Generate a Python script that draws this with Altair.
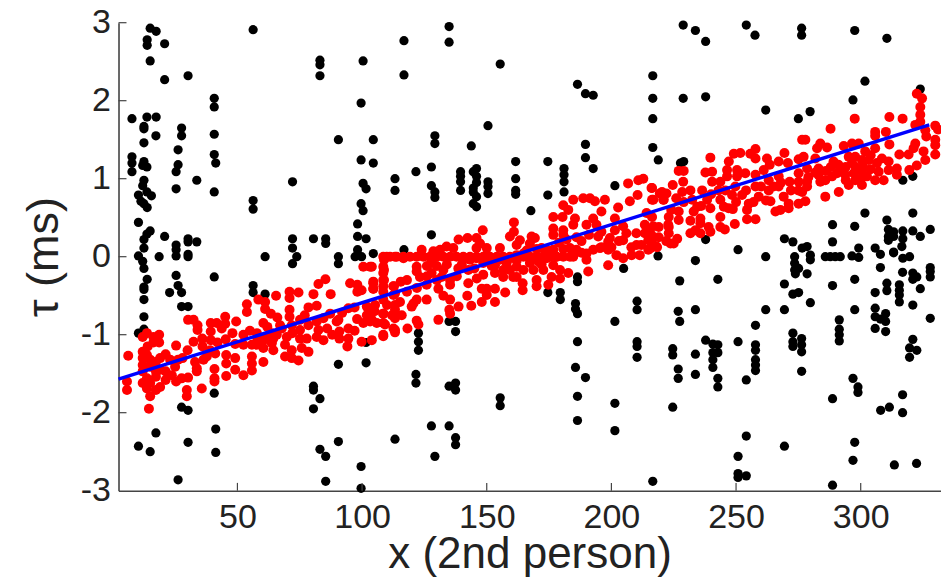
import altair as alt
import pandas as pd

BLACK_A = [(15,2.93),(17.4,2.89),(13.8,2.78),(13.8,2.71),(20.8,2.73),(15,2.51),(20.8,2.27),(30.2,2.32),(56.3,2.91),(83.1,2.52),(83.1,2.46),(83.1,2.32),(100.4,2.51),(99.6,1.97),(40.7,2.03),(40.7,1.92),(7.7,1.77),(13.7,1.79),(17.4,1.79),(12.5,1.67),(12.5,1.64),(27.6,1.65),(27.6,1.55),(17.3,1.55),(12.5,1.46),(40.7,1.57),(26.2,1.37),(40.7,1.31),(41.3,1.20),(7.7,1.28),(7.7,1.2),(7.7,1.09),(12.5,1.22),(12,1.17),(13.7,1.15),(26.2,1.18),(25.4,1.09),(33.7,0.98),(25.4,0.87),(40.7,0.83),(12.5,0.98),(12,0.91),(10.3,0.79),(13.7,0.83),(15.5,0.78),(11.3,0.71),(12.5,0.68),(13.8,0.63),(56.3,0.72),(56.3,0.61),(72.1,0.96),(90.5,1.5),(104.5,1.5),(99.6,1.24),(104.5,1.2),(100.4,0.94),(101.6,0.87),(99.6,0.68),(100.4,0.59),(113.2,1.0),(113.2,0.85),(10.3,0.44),(15,0.33),(13.7,0.29),(12.5,0.22),(20.8,0.26),(25.4,0.15),(30.2,0.23),(30.2,0.19),(33.7,0.19),(12.5,0.11),(25.4,0.09),(30.2,0.03),(72.1,0.23),(80.5,0.23),(85.4,0.23),(85.4,0.17),(72.1,0.11),(98.2,0.42),(98.2,0.26),(101.6,0.23),(98.2,0.09),(10.3,0.01),(18.6,0),(25.4,0.01),(30.2,0),(61.1,0),(73.8,0),(90.5,0),(97.2,0),(99.8,0),(104.5,0.04)]
BLACK_B = [(12,-0.06),(12.5,-0.15),(13.8,-0.29),(12.5,-0.39),(12.5,-0.42),(12.5,-0.55),(12.5,-0.77),(12.5,-0.93),(10.3,-0.98),(25.4,-0.24),(26.2,-0.37),(22.8,-0.46),(27.6,-0.46),(27.6,-0.64),(30.2,-0.64),(40.7,-0.26),(56.3,-0.37),(56.3,-0.46),(61.1,-0.48),(72.1,-0.09),(90.5,-0.09),(101.6,-1.1),(90.5,-1.38),(101.6,-1.36),(40.7,-1.75),(27.6,-1.93),(30.2,-1.97),(80.5,-1.66),(80.5,-1.71),(83.1,-1.82),(80.5,-1.95),(41.3,-2.21),(17.3,-2.26),(10.3,-2.43),(15,-2.5),(30.2,-2.38),(41.3,-2.51),(83.1,-2.47),(85.4,-2.56),(90.5,-2.37),(113.2,-2.34),(99.6,-2.69),(26.2,-2.86),(85.4,-2.88),(99.6,-2.97)]
BLACK_C = [(116.8,2.77),(116.8,2.33),(134.9,2.95),(134.9,2.75),(155.4,2.47),(186.4,2.21),(189.6,2.09),(192.7,2.07),(216.6,2.32),(216.6,2.03),(216.6,1.77),(216.6,1.4),(218.8,1.24),(150.5,1.68),(129.2,1.55),(129.2,1.45),(143.8,1.42),(189.6,1.44),(189.6,1.27),(192.7,1.13),(127.8,1.15),(121.6,1.09),(127.8,.91),(129.2,.83),(129.2,.76),(139.5,1.09),(139.5,1.03),(139.5,.96),(139.5,.85),(145.9,1.13),(144.6,1.09),(145.9,1.03),(145.9,.95),(144.6,.88),(144.6,.83),(145.9,.77),(144.6,.68),(145.9,.64),(150.5,.96),(150.5,.9),(150.5,.81),(161.6,1.22),(161.6,1.0),(161.6,.85),(161.6,.8),(174.5,1.22),(174.5,.79),(181,1.13),(181,1.05),(181,.96),(181,.83),(201.4,.91),(167.7,.59),(127.8,.28),(116.8,.09)]
BLACK_D = [(204.9,-.15),(186.4,-.26),(186.4,-.32),(174.5,-.46),(179.5,-.46),(179.5,-.55),(185.6,-.6),(185.6,-.67),(186.4,-.73),(210.3,-.57),(210.3,-.68),(201.4,-.83),(134.9,-.83),(137.5,-.83),(137.5,-.96),(122.6,-.98),(122.6,-1.09),(122.6,-1.2),(186.4,-1.09),(210.3,-1.09),(210.3,-1.15),(210.3,-1.29),(185.6,-1.42),(189.6,-1.55),(121.6,-1.51),(121.6,-1.62),(134.9,-1.66),(137.5,-1.62),(137.5,-1.71),(155.4,-1.81),(155.4,-1.91),(186.4,-1.79),(201.4,-1.88),(186.4,-2.1),(201.4,-2.23),(127.8,-2.17),(134.9,-2.17),(137.5,-2.32),(137.5,-2.41),(129.2,-2.56)]
BLACK_E = [(228.8,2.97),(233.7,2.9),(237.8,2.76),(254.1,2.97),(257.6,2.84),(276.3,2.93),(276.3,2.84),(297.6,2.9),(310.5,2.8),(301.7,2.25),(228.8,2.03),(237.8,2.05),(261.9,1.88),(275,1.77),(279.7,1.86),(296.9,2.01),(323.9,2.15),(227.7,1.2),(229,1.22),(316.9,.98),(320.9,1.03),(301.7,.56),(320.9,.56),(310.5,.47),(288.7,.41),(297.6,.39),(327.9,.35),(320.9,.33),(311.1,.35),(313.2,.32),(316.9,.33),(311.1,.26),(313.2,.26),(316.9,.23),(311.1,.21),(323.9,.26),(237.8,.22),(269.4,.23),(272.8,.19),(288.7,.19),(250.8,.09),(276.5,.11),(278.5,.13),(299.2,.11),(305.8,.11),(313.2,.06),(316.5,.13)]
BLACK_F = [(218.7,.01),(233.7,-.05),(227.4,-.31),(242.7,-.29),(261.9,0),(273.5,0),(273.5,-.085),(273.5,-.17),(275.1,-.15),(273.8,-.22),(278.5,-.22),(279.8,.02),(279.8,-.04),(285.8,0),(287.8,0),(289.8,0),(291.8,0),(296.5,.01),(299.2,-.01),(307.9,.03),(313.2,.05),(316.9,-.02),(319.6,0),(307.9,-.14),(316.8,-.2),(320.9,-.21),(322.5,-.26),(320.9,-.29),(327.9,-.14),(327.9,-.19),(327.9,-.26),(297.6,-.29),(288.7,-.37),(269.4,-.35),(272.8,-.48),(275.1,-.46),(279.8,-.59),(310.5,-.34),(305.8,-.46),(310.5,-.435),(315.5,-.36),(315.5,-.43),(315.5,-.49),(315.5,-.58),(323.9,-.41),(320.9,-.62),(226.8,-.7),(227.4,-.83),(233.7,-.68),(261.9,-.68),(269.4,-.68),(297.6,-.68),(305.8,-.66),(305.8,-.77),(307.9,-.8),(310,-.73),(310,-.83),(305.8,-.92),(310,-.96),(327.9,-.79),(291.4,-.81),(291.4,-.93),(291.4,-1),(291.4,-1.08),(257.8,-.88),(272.8,-.98),(272.8,-1.09),(272.8,-1.15),(276.3,-1.05),(276.3,-1.13),(276.3,-1.22),(320.9,-1.06),(319.6,-1.17),(322.5,-1.2),(319.6,-1.29),(237.8,-1.07),(240.7,-1.12),(242.7,-1.13),(242.7,-1.23),(240.7,-1.23),(240.7,-1.32),(240.7,-1.42),(242.7,-1.56),(242.7,-1.67),(250.8,-1.09),(257.8,-1.13),(257.8,-1.2),(257.8,-1.32),(257.8,-1.39),(257.8,-1.46),(254.1,-1.58),(276.3,-1.47),(224.6,-1.18),(224.6,-1.26),(233.7,-1.25),(226.8,-1.44),(226.8,-1.56),(233.7,-1.51),(296.9,-1.56),(298.9,-1.67),(298.9,-1.74),(288.7,-1.82),(316.8,-1.77),(311.5,-1.93),(308,-1.97),(316.8,-2),(224.6,-1.93),(254.1,-2.3),(250.8,-2.56),(250.8,-2.78),(250.8,-2.83),(254.1,-2.81),(269.4,-2.43),(297.6,-2.38),(296.9,-2.61),(313.5,-2.67),(322.4,-2.65),(216.6,-2.88),(288.7,-2.93)]

RED_LEFT = [(6.2,-1.27),(5.7,-1.6),(5.7,-1.71),(12,-1.03),(13.7,-.98),(16.3,-1.03),(18.6,-1),(18.6,-1.1),(16.3,-1.1),(25.4,-1.14),(12,-1.22),(13.7,-1.26),(12,-1.3),(15,-1.32),(17.3,-1.35),(12,-1.39),(15,-1.41),(12,-1.47),(17.3,-1.47),(13.7,-1.56),(17.3,-1.54),(12,-1.62),(15,-1.62),(13.7,-1.69),(19,-1.67),(17.3,-1.71),(15,-1.79),(14.5,-1.95),(21.2,-1.25),(23,-1.32),(26.2,-1.32),(25,-1.41),(21.2,-1.47),(21.2,-1.58),(23.7,-1.52),(25.4,-1.6),(27.6,-1.56),(30.2,-1.55),(29.7,-1.71),(29.7,-1.79),(30.2,-.81),(32.4,-.81),(34,-.88),(34,-.94),(32.4,-1.09),(35.9,-1.05),(39.3,-.85),(39.3,-.96),(39.3,-1.07),(41.7,-.85),(45.1,-.77),(45.1,-.86),(43.7,-.92),(49.5,-.83),(45.3,-1.06),(52.4,-1),(57.8,-.98),(60.4,-.85),(53.8,-.61),(53.8,-.71),(58.4,-.55),(61.1,-.58),(61.1,-.67),(63.4,-.73),(65.5,-.5),(70.9,-.45),(74.5,-.46),(70.9,-.53),(80.5,-.48),(87.4,-.48),(82.5,-.35),(85.3,-.29),(95.2,-.34),(98.1,-.36),(99.8,-.43),(98.1,-.45),(104.5,-.32),(104.5,-.41),(108.8,-.04),(108.8,-.17),(108.8,-.3),(112.5,-.38),(113.2,-.47),(109.9,0),(113.2,0),(100.5,-.13),(103.9,-.13),(78.5,-.65),(81.8,-.63),(70.9,-.68),(70.9,-.77),(75.1,-.81),(67.1,-.88),(71.8,-.88),(63.8,-.98),(61.1,-1.05),(63.8,-1.11),(60.4,-1.17),(64.4,-1.2),(55.8,-1.13),(52.4,-1.13),(49.1,-1.12),(39.1,-1.2),(41.1,-1.24),(37.7,-1.28),(36.4,-1.32),(33,-1.35),(33.7,-1.43),(33.7,-1.47),(40.8,-1.44),(40.8,-1.56),(40.8,-1.6),(45.5,-1.26),(45.5,-1.37),(45.5,-1.53),(49.1,-1.3),(49.1,-1.45),(52.4,-1.52),(55.8,-1.28),(55.8,-1.37),(55.8,-1.46),(60.4,-1.35),(69.1,-1.13),(71.8,-1.2),(69.1,-1.28),(71.8,-1.3),(75.8,-1.17),(78.5,-1.22),(74.5,-1.33),(35.7,-1.69),(75.1,-.94),(77.8,-1.05),(75.1,-1.05),(78.5,-.88),(81.8,-.83),(82.5,-.94),(81.8,-1.03),(84.5,-1.07),(84.5,-.79),(87.2,-.73),(89.8,-.83),(90.9,-.96),(90.9,-1.05),(94.5,-.92),(94.5,-1.05),(94.1,-1.15),(101.9,-.64),(101.9,-.75),(105.2,-.62),(100.5,-.85),(103.9,-.81),(108.5,-.73),(108.5,-.85),(108.5,-1.02),(113.2,-.94),(113.2,-.79),(113.2,-.62),(99.8,-1.09),(103.9,-1.07),(90.5,-.81),(94.5,-.66),(65.8,-1),(67.8,-.92),(69.8,-1.03),(60.4,-1.07),(57.8,-1.13),(64.4,-1.05)]
RED_FLAT_X = [108.5,111.2,113.9,116.6,119.2,121.9,124.6,127.2,129.9,132.6,135.3,137.9,140.6,143.3,145.9,148.6,151.3,154,156.6,159.3,162,164.7,167.3,170,172.7,175.3,178,180.7,183.4]
RED_MID = [(108.5,-.13),(108.5,-.21),(108.5,-.3),(108.5,-.38),(108.5,-.45),(108.5,-.55),(103.2,-.13),(104.5,-.34),(104.5,-.41),(103.2,-.73),(103.2,-.83),(105.9,-.85),(108.5,-.73),(109.2,-.87),(108.5,-1),(112.8,-.38),(115.5,-.32),(112.6,-.49),(115.2,-.58),(113.2,-.68),(115.9,-.75),(113.2,-.77),(112.6,-.92),(113.2,-.97),(118.2,-.92),(121.9,-.82),(122.6,-.87),(120.6,-.6),(119.9,-.64),(121.9,-.55),(125.9,-.55),(130.6,-.41),(132.6,-.5),(135.3,-.55),(130.6,-.81),(135,-.68),(135.3,-.73),(138.7,-.64),(143.8,-.63),(142.2,-.5),(148,-.58),(153.3,-.58),(150,-.41),(150,-.49),(153.3,-.41),(157.4,-.46),(148,-.41),(116.6,-.02),(121.9,-.19),(123.2,-.26),(121.9,-.13),(127.9,-.08),(127.9,-.21),(125.9,-.36),(132.6,-.17),(131.9,-.26),(135.3,-.36),(135.3,-.3),(138.6,-.15),(142.6,-.17),(142.6,-.34),(148.6,-.23),(148.4,.34),(138.7,.22),(142.3,.24),(145.9,.24),(147.3,.17),(150,.11),(150,.02),(145.9,.11),(133.9,.13),(136.6,.11),(131.3,.09),(128.6,.07),(123.9,.09),(141.9,-.02),(143.3,-.04),(155.3,.11),(159.3,.26),(160.9,.44),(160.9,.32),(163.3,.21),(162,.15),(168,.26),(169.3,.24),(167.3,.17),(172,.11),(176.7,.51),(180.4,.51),(176.7,.36),(176.7,.28),(180.7,.66),(182.7,.6),(180.7,.34),(180.7,.28),(184.7,.73),(188.7,.75),(191.4,.75),(193.4,.71),(197.4,.73),(196,.58),(185.4,.49),(184.7,.41),(190,.41),(192.7,.49),(194,.41),(202.7,.63),(207.4,.71),(210.5,.79),(206.7,.94),(210.8,.98),(212.8,1),(216.1,.88),(219.4,.81),(222.1,.81),(216.8,.73),(220.8,.73),(214.1,.56),(213.4,.41),(213.4,.3),(216.8,.39),(222.8,.41),(214.8,.21),(218.1,.13),(210.1,.15),(204.7,.39),(204.7,.21),(201.4,.49),(201.4,.34),(199.4,.24),(198.7,.19),(194.7,.26),(190,.04),(192.7,.09),(195.4,.11),(198.7,.09),(202,.02),(204.7,-.02),(208.1,.02),(211.4,.02),(214.8,.09),(198.7,-.11),(190,-.04),(190.7,-.19),(186,.09),(184.7,0),(183.4,.11),(180.7,.1),(178,0),(176.7,.09),(174,.09),(174,-.02),(170.7,-.06),(167.3,0),(164.7,.04),(162,.02),(159.3,-.02),(155.3,-.04),(153.3,-.11),(153.3,-.21),(156.6,-.17),(159.3,-.17),(162,-.13),(164.7,-.17),(167.3,-.08),(168.7,-.17),(170,-.3),(170,-.38),(164.4,-.34),(164.4,-.43),(156.6,-.26),(160.6,-.26),(162,-.26),(172.7,-.17),(176.7,-.11),(179.4,-.17),(182.7,-.21),(179.4,-.28),(176,-.26),(174.7,-.36),(148.6,-.08),(145.9,-.02),(151.3,-.04)]
RED_RIGHT = [(322.5,2.09),(324.6,2.03),(323.9,1.92),(323.9,1.82),(323.9,1.73),(321.9,1.69),(325.9,1.62),(311.5,1.79),(316.8,1.77),(297.6,1.77),(287.9,1.64),(305.8,1.6),(305.8,1.55),(310.1,1.6),(311.5,1.44),(329.9,1.68),(331,1.63),(326.3,1.54),(329.9,1.5),(329.9,1.43),(321.9,1.45),(321.2,1.39),(325.2,1.35),(329.9,1.31),(315.5,1.31),(319.2,1.31),(325.9,1.24),(322.5,1.17),(319.5,1.11),(314.5,1.13),(314.5,1.05),(311.2,1.22),(308.5,1.26),(306.5,1.2),(311.2,1.11),(307.2,1.09),(309.2,.98),(305.8,.98),(302.5,1.03),(300.5,.92),(297.8,.98),(295.2,.92),(297.2,1.07),(300.5,1.09),(296.5,1.2),(300.5,1.24),(303.2,1.24),(301.8,1.35),(305.8,1.39),(299.2,1.45),(296.5,1.45),(293.2,1.42),(297.8,1.28),(295.2,1.28),(292.5,1.11),(290.5,1.07),(288.5,1.03),(285.8,.98),(283.8,.96),(293.8,1.05),(289.1,1.22),(286.5,1.4),(283.8,1.45),(282.5,1.39),(276.5,1.5),(277.8,1.5),(277.1,1.28),(275.1,1.25),(281.8,1.26),(283.1,1.13),(281.8,1.08),(278.5,1.13),(275.1,1.07),(278.5,.96),(275.1,.96),(278.5,.9),(276.5,.83),(277.8,.71),(275.1,.68),(271.5,.96),(270.8,1.2),(267.1,1.22),(269.4,1.33),(262.4,1.26),(263.5,1.18),(261.1,1.11),(257.8,1.38),(255.7,1.32),(257.8,1.26),(251.7,1.33),(249.1,1.32),(247.1,1.22),(239.7,1.27),(229,1.1),(227,1.1),(228.8,.96),(237.7,1.08),(240.4,1.09),(246.4,1.11),(246.4,1.03),(250.4,1.11),(250.4,1.03),(253.7,1.07),(257.8,1.05),(240.4,.96),(236.4,.85),(231.7,.85),(228.4,.83),(224.6,.92),(220.3,.83),(216.3,.88),(216.3,.73),(221,.73),(232.4,.73),(234.4,.64),(238.4,.73),(239.7,.62),(243.7,.73),(245.1,.64),(248.4,.79),(252.4,.79),(255.1,.68),(254.4,.6),(259.1,.77),(263.1,.98),(263.1,.85),(267.1,1.03),(267.1,.9),(269.1,.77),(263.8,.71),(265.8,.58),(267.8,.6),(271.1,.68),(271.1,.62),(285.8,.77),(291.2,.83),(243.7,.96),(245.7,.85),(249.7,.9),(257.8,.9),(227,.58),(223,.51),(223,.38),(227,.47),(231.7,.46),(235.7,.49),(235.7,.43),(233.7,.34),(231.7,.3),(235.7,.3),(239,.38),(239.7,.32),(243.7,.51),(243.7,.38),(245.5,.35),(249.5,.42),(248.7,.61),(254.4,.48),(257.8,.48),(226.4,.23),(223,.3),(223.7,.17),(225,.17),(219,.38),(216.3,.51),(215,.34),(216.3,.21),(218.3,.12),(215.7,.11)]
RED_FILL = [(14,-1.15),(19,-1.3),(19,-1.45),(28,-1.3),(30,-1.2),(36,-1.15),(42,-1.1),(48,-.98),(55,-.95),(58,-1.05),(62,-.9),(66,-.78),(72,-.98),(77,-.75),(86,-.92),(88,-1),(92,-.72),(97,-.65),(98,-.8),(97,-.95),(105,-.7),(110,-.62),(112,-.75),(118,-.3),(118,-.45),(122,-.4),(126,-.12),(126,-.25),(130,-.12),(130,-.3),(134,-.1),(138,-.25),(140,-.1),(145,-.15),(146,-.28),(152,-.12),(158,-.08),(162,-.05),(166,.08),(170,.1),(172,-.1),(175,.02),(179,.18),(182,.22),(186,.25),(188,.2),(188,.05),(191,.28),(196,.32),(196,.12),(200,.12),(203,.2),(206,.3),(208,.12),(210,.3),(212,.15),(216,.28),(219,.25),(222,.2),(224,.6),(226,.75),(229,.7),(233,.58),(236,.65),(240,.8),(243,.85),(247,.62),(250,.7),(254,.85),(257,.7),(260,.9),(262,.72),(265,.9),(268,.95),(272,.85),(275,.85),(279,1.02),(283,1.05),(286,1.1),(288,1.15),(291,1.18),(294,1.15),(298,1.15),(301,1.15),(304,1.12),(300,1.0),(294,.98),(304,1.3)]

BLUE_X = [2.3, 327.5]
BLUE_Y = [-1.57, 1.69]
X_TICKS = [50, 100, 150, 200, 250, 300]
Y_TICKS = [-3, -2, -1, 0, 1, 2, 3]
INNER_Y_TICKS = [-2, -1, 0, 1, 2, 3]
X_DOMAIN = [2.3, 332]
Y_DOMAIN = [-3, 3]
X_TICK_END = -2.9
Y_TICK_END = 5.5

FONT = "Liberation Sans"
AXIS_COLOR = "#444444"
xs = alt.Scale(domain=X_DOMAIN, nice=False, zero=False)
ys = alt.Scale(domain=Y_DOMAIN, nice=False, zero=False)

black = pd.DataFrame(BLACK_A + BLACK_B + BLACK_C + BLACK_D + BLACK_E + BLACK_F, columns=["x", "y"])
red = pd.DataFrame(RED_LEFT + [(v, 0) for v in RED_FLAT_X] + RED_MID + RED_RIGHT + RED_FILL, columns=["x", "y"])
blue = pd.DataFrame({"x": BLUE_X, "y": BLUE_Y})
xt = pd.DataFrame({"x": X_TICKS, "y": [Y_DOMAIN[0]] * len(X_TICKS), "y2": [X_TICK_END] * len(X_TICKS)})
yt = pd.DataFrame({"x": [X_DOMAIN[0]] * len(INNER_Y_TICKS), "x2": [Y_TICK_END] * len(INNER_Y_TICKS), "y": INNER_Y_TICKS})

x_axis = alt.Axis(values=X_TICKS, grid=False, ticks=False, domainColor=AXIS_COLOR, domainWidth=1.6,
                  labelFont=FONT, labelFontSize=34, labelColor="#222222", labelPadding=10,
                  title="x (2nd person)", titleFont=FONT, titleFontSize=44, titleFontWeight="normal",
                  titleColor="#222222", titleBaseline="alphabetic", titleY=77, labelFlush=False)
y_axis = alt.Axis(values=Y_TICKS, grid=False, ticks=False, domainColor=AXIS_COLOR, domainWidth=1.6,
                  labelFont=FONT, labelFontSize=34, labelColor="#222222", labelPadding=8,
                  labelExpr="datum.value",
                  title="τ (ms)", titleFont=FONT, titleFontSize=45, titleFontWeight="normal",
                  titleColor="#222222", titlePadding=14, labelFlush=False)
X = alt.X("x:Q", scale=xs, axis=x_axis)
Y = alt.Y("y:Q", scale=ys, axis=y_axis)

black_layer = alt.Chart(black).mark_circle(color="#000000", size=85, opacity=1).encode(x=X, y=Y)
red_layer = alt.Chart(red).mark_circle(color="#ff0000", size=100, opacity=1).encode(x=X, y=Y)
blue_layer = alt.Chart(blue).mark_line(color="#0000ff", strokeWidth=3.5).encode(x=X, y=Y)
xt_layer = alt.Chart(xt).mark_rule(color=AXIS_COLOR, strokeWidth=1.2).encode(x=X, y=Y, y2="y2:Q")
yt_layer = alt.Chart(yt).mark_rule(color=AXIS_COLOR, strokeWidth=1.2).encode(x=X, x2="x2:Q", y=Y)

chart = alt.layer(black_layer, red_layer, blue_layer, xt_layer, yt_layer).properties(
    width=822, height=468,
    autosize=alt.AutoSizeParams(type="none"),
    padding={"left": 110.5, "top": 14.7, "right": 0, "bottom": 86},
).configure_view(stroke=None)

chart.save("out.html", embed_options={"renderer": "svg", "actions": False})
